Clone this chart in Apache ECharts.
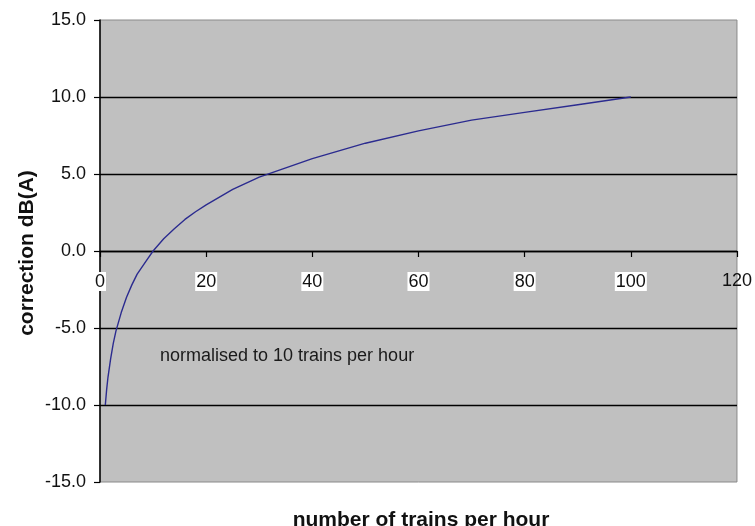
<!DOCTYPE html>
<html>
<head>
<meta charset="utf-8">
<script src="https://cdn.jsdelivr.net/npm/echarts@6/dist/echarts.min.js"></script>
<style>
html,body{margin:0;padding:0;background:#fff;}
#chart{width:755px;height:526px;}
</style>
</head>
<body>
<div id="chart"></div>
<script>
// Data
var trainsPerHour = [1, 1.25, 1.5, 2, 2.5, 3, 4, 5, 6, 7, 8, 9, 10, 12, 14, 16, 18, 20, 25, 30, 35, 40, 45, 50, 60, 70, 80, 90, 100];
var correctionDb  = [-10, -9.0, -8.2, -7.0, -6.0, -5.2, -4.0, -3.0, -2.2, -1.5, -1.0, -0.5, 0, 0.8, 1.45, 2.05, 2.55, 3.0, 4.0, 4.8, 5.4, 6.0, 6.5, 7.0, 7.8, 8.5, 9.0, 9.5, 10.0];
var xTicks = [0, 20, 40, 60, 80, 100, 120];
var yTicks = [-15, -10, -5, 0, 5, 10, 15];
var xTitle = 'number of trains per hour';
var yTitle = 'correction dB(A)';
var note = 'normalised to 10 trains per hour';

var points = trainsPerHour.map(function (n, i) { return [n, correctionDb[i]]; });
var chart = echarts.init(document.getElementById('chart'));
var font = 'Liberation Sans, Arial, sans-serif';
chart.setOption({
  animation: false,
  grid: {
    left: 100, right: 14, top: 20, bottom: 44,
    show: true, backgroundColor: '#c0c0c0', borderColor: '#8a8a8a', borderWidth: 1
  },
  xAxis: {
    type: 'value', min: xTicks[0], max: xTicks[xTicks.length - 1], interval: 20,
    axisLine: { onZero: true, lineStyle: { color: '#000', width: 1.3 } },
    axisTick: { show: true, length: 6, lineStyle: { color: '#000', width: 1.2 } },
    splitLine: { show: false },
    axisLabel: {
      margin: -210, fontSize: 18, fontFamily: font, color: '#111',
      formatter: function (v) { return v === 120 ? '{n|' + v + '}' : '{w|' + v + '}'; },
      rich: {
        w: { backgroundColor: '#fff', padding: [1, 1, 0, 1], fontSize: 18, fontFamily: font, color: '#111' },
        n: { fontSize: 18, fontFamily: font, color: '#111' }
      }
    }
  },
  yAxis: {
    type: 'value', min: yTicks[0], max: yTicks[yTicks.length - 1], interval: 5,
    axisLine: { show: true, lineStyle: { color: '#000', width: 1.5 } },
    axisTick: { show: true, length: 6, lineStyle: { color: '#000', width: 1.2 } },
    splitLine: { show: true, showMinLine: false, showMaxLine: false, lineStyle: { color: '#000', width: 1.3 } },
    axisLabel: {
      margin: 14, fontSize: 18, fontFamily: font, color: '#111',
      formatter: function (v) { return v.toFixed(1); }
    }
  },
  series: [{
    type: 'line', data: points, showSymbol: false, smooth: false,
    lineStyle: { color: '#2b2b8f', width: 1.4 }
  }],
  graphic: [
    { type: 'text', left: 160, top: 347, style: { text: note, font: '18px ' + font, fill: '#1a1a1a' } },
    { type: 'text', x: 27, y: 253, rotation: Math.PI / 2,
      style: { text: yTitle, font: 'bold 21px ' + font, fill: '#111', align: 'center', verticalAlign: 'middle' } },
    { type: 'text', x: 421, y: 520,
      style: { text: xTitle, font: 'bold 21px ' + font, fill: '#111', align: 'center', verticalAlign: 'middle' } }
  ]
});
</script>
</body>
</html>
